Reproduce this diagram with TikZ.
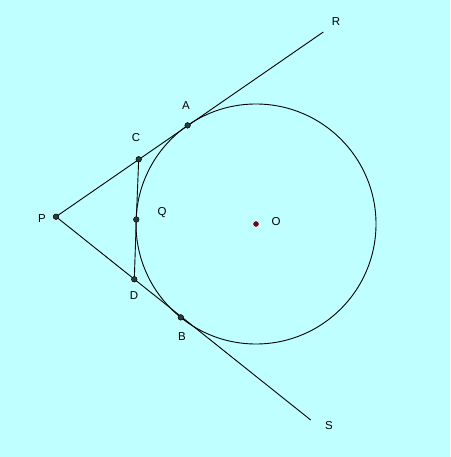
\documentclass[tikz,border=0pt]{standalone}
\usepackage{fontspec}
\setmainfont{Liberation Sans}
\definecolor{bgcyan}{RGB}{192,255,255}
\definecolor{ptdark}{RGB}{40,60,60}
\definecolor{ored}{RGB}{130,0,20}
\begin{document}
\begin{tikzpicture}[x=1pt,y=-1pt,
  lbl/.style={font=\fontsize{11.5}{13}\selectfont, text=black, inner sep=0pt},
  pt/.style={circle, fill=ptdark, draw=black, line width=0.3pt, inner sep=0pt, minimum size=5.5pt},
  ln/.style={line width=0.9pt, black}]
\fill[bgcyan] (0,0) rectangle (450,457);
\useasboundingbox (0,0) rectangle (450,457);
\coordinate (Oc) at (256,224);
\draw[ln] (Oc) circle[radius=120];
\coordinate (Rend) at (323.3,32);
\coordinate (Send) at (310.7,420);
\node[pt] (P) at (56,216.7) {};
\node[pt] (A) at (187.6,125.4) {};
\node[pt] (B) at (180.8,317.4) {};
\node[pt] (C) at (138.7,159.3) {};
\node[pt] (Q) at (136.3,219.5) {};
\node[pt] (D) at (134.3,279.3) {};
\node[circle, fill=ored, draw=ored!60!black, line width=0.3pt, inner sep=0pt, minimum size=5pt] (O) at (Oc) {};
\draw[ln] (P.center) -- (Rend);
\draw[ln] (P.center) -- (Send);
\draw[ln] (C.center) -- (Q.center) -- (D.center);
\node[pt] at (P) {};
\node[pt] at (A) {};
\node[pt] at (B) {};
\node[pt] at (C) {};
\node[pt] at (Q) {};
\node[pt] at (D) {};
\node[lbl] (lP) at (42,219) {P};
\node[lbl] (lQ) at (162,213) {Q};
\node[lbl] (lA) at (186,106) {A};
\node[lbl] (lC) at (136,138) {C};
\node[lbl] (lD) at (134,296) {D};
\node[lbl] (lB) at (182,337) {B};
\node[lbl] (lR) at (336,22) {R};
\node[lbl] (lS) at (329,426) {S};
\node[lbl] (lO) at (276,222) {O};
\end{tikzpicture}
\end{document}
